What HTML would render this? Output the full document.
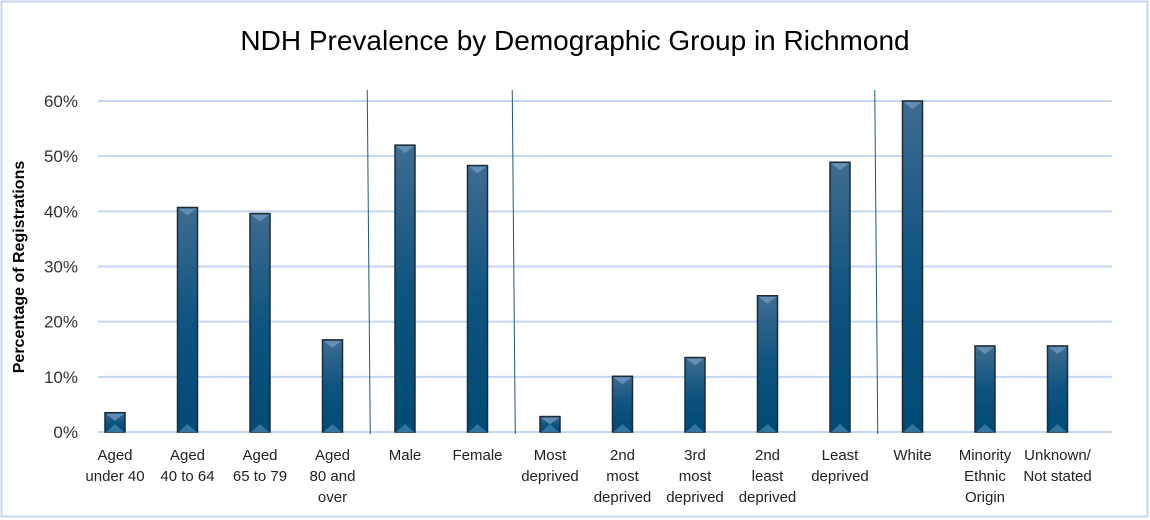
<!DOCTYPE html>
<html><head><meta charset="utf-8">
<style>
html,body{margin:0;padding:0;background:#fff;}
svg{display:block;font-family:"Liberation Sans",Calibri,sans-serif;}
</style></head>
<body>
<svg id="chart" width="1150" height="520" xmlns="http://www.w3.org/2000/svg">
<defs>
<linearGradient id="barGrad" x1="0" y1="0" x2="0" y2="1">
<stop offset="0" stop-color="#3f6c91"/>
<stop offset="0.5" stop-color="#0e5480"/>
<stop offset="1" stop-color="#004a74"/>
</linearGradient>
</defs>
<rect x="1.5" y="1.5" width="1146" height="515" fill="#fff" stroke="#c5d6f2" stroke-width="2"/>
<text x="575" y="50" text-anchor="middle" font-size="28" fill="#000">NDH Prevalence by Demographic Group in Richmond</text>
<text transform="translate(24,267) rotate(-90)" text-anchor="middle" font-size="16" font-weight="bold" fill="#000">Percentage of Registrations</text>
<g id="grid"></g><g id="bars"></g><g id="seps"></g><g id="labels"></g>
</svg>
<script>
const categories=[["Aged","under 40"],["Aged","40 to 64"],["Aged","65 to 79"],["Aged","80 and","over"],["Male"],["Female"],["Most","deprived"],["2nd","most","deprived"],["3rd","most","deprived"],["2nd","least","deprived"],["Least","deprived"],["White"],["Minority","Ethnic","Origin"],["Unknown/","Not stated"]];
const values=[3.5,40.7,39.6,16.7,52.0,48.3,2.8,10.1,13.5,24.7,48.9,60,15.6,15.6];
const yTicks=[0,10,20,30,40,50,60];
const tickLabels=["0%","10%","20%","30%","40%","50%","60%"];
const separatorsAfter=[3,5,10];

const NS="http://www.w3.org/2000/svg";
const y0=432,y1=101,yMax=60,gridL=98,gridR=1112,firstC=115,band=72.5,barW=20;
const y=v=>y0-(Math.min(v,yMax)/yMax)*(y0-y1);
const x=i=>firstC+i*band;
function mk(tag,attrs,parent){const e=document.createElementNS(NS,tag);for(const k in attrs)e.setAttribute(k,attrs[k]);parent.appendChild(e);return e;}
const grid=document.getElementById('grid'),bars=document.getElementById('bars'),seps=document.getElementById('seps'),labels=document.getElementById('labels');
yTicks.forEach((t,i)=>{
  const l=mk('line',{x1:gridL,x2:gridR,y1:y(t),y2:y(t),stroke:'#c5d6f2','stroke-width':2},grid);
  
  
  const tx=mk('text',{x:78,y:y(t)+6,'text-anchor':'end','font-size':17,fill:'#333'},grid);
  tx.textContent=tickLabels[i];
  
  
});
values.forEach((v,i)=>{
  const top=y(v),h=y0-top;
  const r=mk('rect',{x:x(i)-barW/2,y:top,width:barW,height:h,fill:'url(#barGrad)',stroke:'#1b2b38','stroke-width':1.5},bars);
  
  
  const tw=mk('path',{d:`M${x(i)-barW/2+1},${top+1} L${x(i)+barW/2-1},${top+1} L${x(i)},${top+Math.min(8,h/2)} Z`,fill:'#6f97bb',opacity:0.8},bars);
  
  
  const bw=mk('path',{d:`M${x(i)-barW/2+1},${y0} L${x(i)+barW/2-1},${y0} L${x(i)},${y0-Math.min(8,h/2)} Z`,fill:'#3d80ad',opacity:0.8},bars);
  
  
  categories[i].forEach((ln,j)=>{
    const t=mk('text',{x:x(i),y:460+j*21,'text-anchor':'middle','font-size':15,fill:'#222'},labels);
    t.textContent=ln;
    
    
  });
});
separatorsAfter.forEach(i=>{
  const sx=(x(i)+x(i+1))/2;
  const l=mk('line',{x1:sx-1.5,y1:90,x2:sx+1.5,y2:434,stroke:'#1a5a80','stroke-width':1},seps);
  
  
});
</script>
</body></html>
